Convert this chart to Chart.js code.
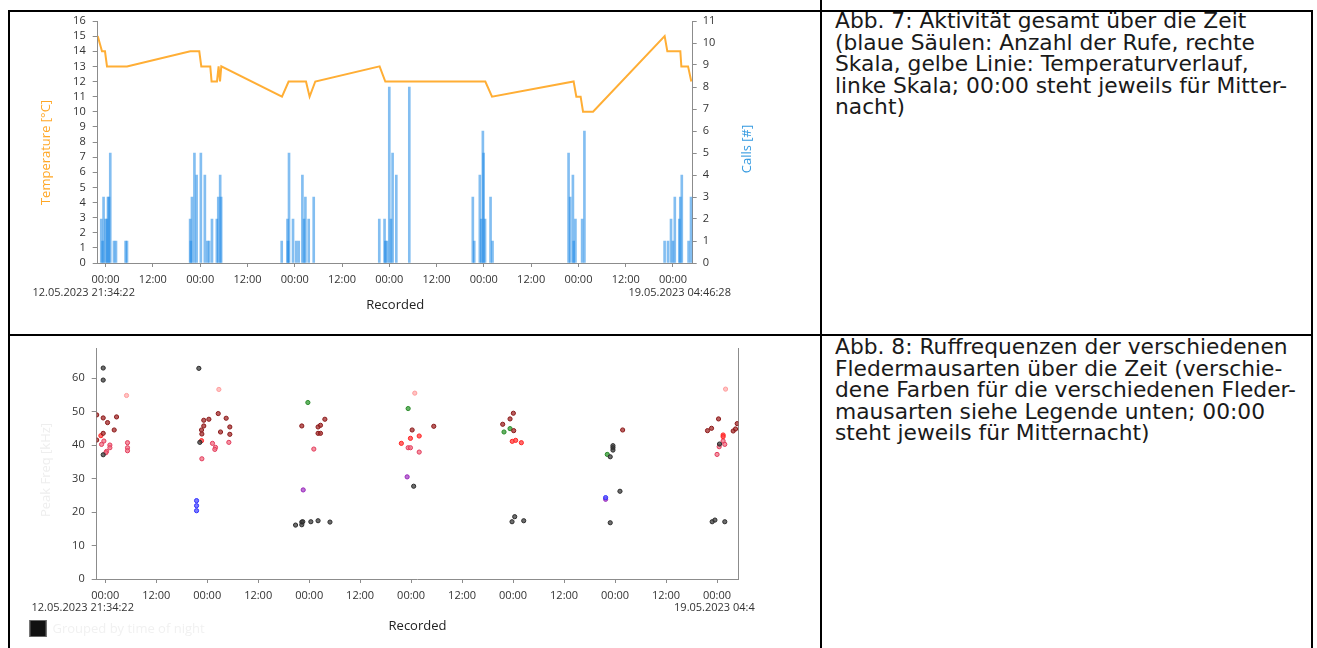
<!DOCTYPE html>
<html><head><meta charset="utf-8">
<script src="https://cdn.jsdelivr.net/npm/chart.js@4.4.1/dist/chart.umd.min.js"></script>
<style>
html,body{margin:0;padding:0;background:#fff;width:1317px;height:648px;overflow:hidden;}
#page{position:relative;width:1317px;height:648px;}
.ln{position:absolute;background:#000;z-index:5;}
#c1{position:absolute;left:0;top:0;}
#wrap2{position:absolute;left:0;top:335px;width:755px;height:313px;overflow:hidden;}
#c2{position:absolute;left:0;top:0;}
.cap{position:absolute;left:835px;font-family:"DejaVu Sans",sans-serif;color:#1a1a1a;font-size:17px;line-height:21.5px;white-space:nowrap;}
</style></head>
<body><div id="page">
<canvas id="c1" width="820" height="335"></canvas>
<div id="wrap2"><canvas id="c2" width="820" height="313"></canvas></div>
<div class="cap" id="cap1" style="top:10px">Abb. 7: Aktivität gesamt über die Zeit<br>(blaue Säulen: Anzahl der Rufe, rechte<br><span id="meas">Skala, gelbe Linie: Temperaturverlauf,</span><br>linke Skala; 00:00 steht jeweils für Mitter-<br>nacht)</div>
<div class="cap" id="cap2" style="top:336px">Abb. 8: Ruffrequenzen der verschiedenen<br>Fledermausarten über die Zeit (verschie-<br>dene Farben für die verschiedenen Fleder-<br>mausarten siehe Legende unten; 00:00<br>steht jeweils für Mitternacht)</div>
<div class="ln" style="left:8px;top:10px;width:1305px;height:1.5px"></div>
<div class="ln" style="left:8px;top:334px;width:1305px;height:1.5px"></div>
<div class="ln" style="left:8px;top:10px;width:2px;height:640px"></div>
<div class="ln" style="left:820px;top:0px;width:2px;height:650px"></div>
<div class="ln" style="left:1311px;top:10px;width:2px;height:640px"></div>
</div>
<script>
// ---------- data ----------
const tickHours = [0,12,24,36,48,60,72,84,96,108,120,132,144];
const tickLabels = ['00:00','12:00','00:00','12:00','00:00','12:00','00:00','12:00','00:00','12:00','00:00','12:00','00:00'];
const startLabel = '12.05.2023 21:34:22';
const endLabel = '19.05.2023 04:46:28';
const tempTicks = [0,1,2,3,4,5,6,7,8,9,10,11,12,13,14,15,16];
const callTicks = [0,1,2,3,4,5,6,7,8,9,10,11];
const freqTicks = [0,10,20,30,40,50,60];

// hours relative to 13.05.2023 00:00
const callTimes = [
 -1.09,-0.76,-0.51,0,0.36,0.61,0.86,1.19,2.13,2.64,5.08,5.43,
 21.46,21.64,21.92,22.55,23.1,24.18,25.19,25.83,26.28,27.0,28.24,28.6,29.08,29.33,
 44.7,46.17,46.3,46.55,47.57,48.38,49.02,49.95,50.36,50.71,51.55,52.82,
 69.46,70.8,71.0,71.4,72.0,72.43,72.84,73.78,77.08,
 93.2,93.56,94.98,95.34,95.75,95.92,96.3,97.7,98.2,
 117.5,117.9,118.6,118.8,119.24,120.94,121.52,
 141.87,142.73,143.5,144.0,144.46,145.6,145.85,146.23,147.96,148.57];
const callCounts = [
 2,1,3,2,2,3,3,5,1,1,1,1,
 2,1,3,5,4,5,4,1,1,2,2,3,4,3,
 1,2,1,5,2,1,1,4,2,3,2,3,
 2,2,1,1,8,2,5,4,8,
 3,1,4,2,6,5,2,3,1,
 5,3,4,1,2,2,6,
 1,1,2,1,3,2,3,4,1,3];

const tempTimes = [-2.0,-0.91,-0.15,0.36,5.43,21.5,23.78,24.29,26.57,26.9,28.27,28.68,29.04,29.37,44.77,46.45,50.86,51.78,53.22,69.54,70.99,96.37,98.07,118.78,119.47,120.56,121.17,123.71,141.88,142.56,145.86,146.12,147.82,148.65];
const tempValues = [15,14,14,13,13,14,14,13,13,12,12,13,12,13,11,12,12,11,12,13,12,12,11,12,11,11,10,10,15,14,14,13,13,12];

const blackTimes = [-0.47,-0.47,-0.47,22.04,22.27,44.8,46.27,46.27,46.5,48.4,50.1,52.9,72.6,95.75,96.38,98.5,118.86,119.5,119.5,119.5,121.15,118.86,144.58,142.85,143.5,145.82];
const blackFreqs = [63,59.4,37.1,62.9,40.8,16.1,17,16.2,17.1,17.1,17.4,17,27.7,17.1,18.6,17.4,36.5,39.8,39.2,38.5,26.2,16.8,40.3,17.1,17.6,17.1];
const maroonTimes = [-2.0,-2.0,-0.47,-0.47,0.55,2.12,2.67,22.67,22.75,23.2,23.2,24.4,26.6,27.14,28.47,29.33,29.33,46.27,50.1,50.67,50.1,50.67,51.7,72.24,77.33,93.55,95.28,96.06,96.14,121.78,141.75,142.7,144.35,147.8,148.35,148.74];
const maroonFreqs = [49,41.5,48.1,43.5,46.7,44.5,48.4,44.5,43.3,47.4,45.7,47.7,49.4,43.9,48,45.4,43.2,45.7,45.4,45.9,43.5,43.5,47.7,44.5,45.6,46.2,47.8,49.5,44.3,44.5,44.3,45,47.8,44.2,44.8,46.4];
const redTimes = [-1.02,22.67,69.7,71.84,73.9,95.8,96.6,97.94,145.43,145.43];
const redFreqs = [42.8,41.3,40.5,42,42.7,41.1,41.4,40.7,43,42.5];
const crimsonTimes = [-0.31,-0.86,0.31,0.16,1.1,1.1,5.25,5.25,5.25,22.75,25.25,25.96,25.8,29.1,49.1,71.3,71.84,73.9,144.5,145.43,145.82,144.0];
const crimsonFreqs = [41.2,40.2,38.1,37.7,40,39.2,40.7,39.2,38.3,35.9,40.5,39.3,38.7,40.8,38.8,39.2,39.2,37.9,39.5,41.2,40.2,37.2];
const pinkTimes = [5.02,26.75,72.86,146.0];
const pinkFreqs = [54.8,56.6,55.5,56.7];
const greenTimes = [47.7,71.3,95.28,93.86,118.16];
const greenFreqs = [52.7,50.9,44.9,43.9,37.2];
const blueTimes = [21.5,21.5,21.5,117.77];
const blueFreqs = [23.4,21.9,20.4,24.3];
const purpleTimes = [46.6,71.06,117.77];
const purpleFreqs = [26.6,30.5,23.8];

// ---------- styling ----------
const FONT = '"Open Sans","Noto Sans",sans-serif';
const AXIS = '#8c8c8c';
const TICKC = '#333333';
const X_MIN = -2.0, X_MAX = 149.0;
Chart.defaults.font.family = FONT;
Chart.defaults.animation = false;

// fit caption font to measured width
(function(){
  const m = document.getElementById('meas');
  const w = m.getBoundingClientRect().width;
  const fs = 17 * 414 / w;
  document.getElementById('cap1').style.fontSize = fs + 'px';
  document.getElementById('cap2').style.fontSize = fs + 'px';
})();

const extraText = {
  id: 'extraText',
  afterDraw(chart, args, o) {
    const {ctx, chartArea: a} = chart;
    ctx.save();
    ctx.font = '11px ' + FONT;
    ctx.fillStyle = TICKC;
    ctx.textAlign = 'center';
    ctx.textBaseline = 'middle';
    ctx.fillText(startLabel, a.left - 14, a.bottom + o.dateDy);
    ctx.fillText(endLabel, a.right - 13, a.bottom + o.dateDy);
    (o.vTitles || []).forEach(t => {
      ctx.save();
      ctx.translate(t.x, t.y);
      ctx.rotate(-Math.PI / 2);
      ctx.font = '13px ' + FONT;
      ctx.fillStyle = t.color;
      ctx.fillText(t.text, 0, 0);
      ctx.restore();
    });
    if (o.legend) {
      const L = o.legend;
      ctx.fillStyle = '#111111';
      ctx.fillRect(L.x, L.y, 17, 17);
      ctx.strokeStyle = '#666';
      ctx.lineWidth = 1;
      ctx.strokeRect(L.x + 0.5, L.y + 0.5, 16, 16);
      ctx.font = '13px ' + FONT;
      ctx.fillStyle = '#f1f1f1';
      ctx.textAlign = 'left';
      ctx.fillText(L.text, L.x + 23, L.y + 9);
    }
    ctx.restore();
  }
};

function xAxis(height, titlePad) {
  return {
    type: 'linear', min: X_MIN, max: X_MAX, offset: false,
    afterBuildTicks: s => { s.ticks = tickHours.map(v => ({value: v})); },
    ticks: {autoSkip: false, maxRotation: 0, font: {size: 11}, color: TICKC, padding: 6,
      callback: v => { const i = tickHours.indexOf(v); return i >= 0 ? tickLabels[i] : ''; }},
    grid: {display: true, drawOnChartArea: false, drawTicks: true, tickLength: 4, color: AXIS, offset: false},
    border: {display: true, color: AXIS},
    title: {display: true, text: 'Recorded', color: '#222', font: {size: 13}, padding: {top: 0, bottom: titlePad}},
    afterFit: s => { s.height = height; }
  };
}

// ---------- chart 1 ----------
new Chart(document.getElementById('c1'), {
  type: 'bar',
  data: {
    datasets: [
      {type: 'line', label: 'Temperature', yAxisID: 'yT', order: 0,
       data: tempTimes.map((t, i) => ({x: t, y: tempValues[i]})),
       borderColor: '#FFAE35', borderWidth: 2, pointRadius: 0, tension: 0, fill: false},
      {type: 'bar', label: 'Calls', yAxisID: 'yC', order: 1,
       data: callTimes.map((t, i) => ({x: t, y: callCounts[i]})),
       backgroundColor: 'rgba(30,136,229,0.55)', borderWidth: 0, barThickness: 2, grouped: false}
    ]
  },
  options: {
    responsive: false, animation: false,
    layout: {padding: {top: 21, left: 0, right: 0, bottom: 0}},
    plugins: {legend: {display: false}, tooltip: {enabled: false},
      extraText: {dateDy: 30, vTitles: [
        {text: 'Temperature [°C]', x: 46, y: 152.5, color: '#FFA726'},
        {text: 'Calls [#]', x: 747, y: 149, color: '#3399E0'}]}},
    scales: {
      x: xAxis(72, 22),
      yT: {position: 'left', min: 0, max: 16,
        afterBuildTicks: s => { s.ticks = tempTicks.map(v => ({value: v})); },
        ticks: {autoSkip: false, font: {size: 11}, color: TICKC, padding: 7},
        grid: {drawOnChartArea: false, tickLength: 5, color: AXIS},
        border: {display: true, color: AXIS},
        afterFit: s => { s.width = 97.7; }},
      yC: {position: 'right', min: 0, max: 11,
        afterBuildTicks: s => { s.ticks = callTicks.map(v => ({value: v})); },
        ticks: {autoSkip: false, font: {size: 11}, color: TICKC, padding: 6},
        grid: {drawOnChartArea: false, tickLength: 4, color: AXIS},
        border: {display: true, color: AXIS},
        afterFit: s => { s.width = 127.3; }}
    }
  },
  plugins: [extraText]
});

// ---------- chart 2 ----------
function sp(label, times, freqs, color, fill) {
  return {label, data: times.map((t, i) => ({x: t, y: freqs[i]})),
    pointRadius: 2.1, pointBorderWidth: 1, pointBorderColor: color, pointBackgroundColor: fill,
    borderColor: color, backgroundColor: fill, showLine: false};
}
new Chart(document.getElementById('c2'), {
  type: 'scatter',
  data: {
    datasets: [
      sp('Gruppe 1', blackTimes, blackFreqs, '#2a2a2a', 'rgba(60,60,60,0.75)'),
      sp('Gruppe 2', maroonTimes, maroonFreqs, '#8b1a1a', 'rgba(160,40,40,0.75)'),
      sp('Gruppe 3', redTimes, redFreqs, '#ff2424', 'rgba(255,70,70,0.8)'),
      sp('Gruppe 4', crimsonTimes, crimsonFreqs, '#e23c5c', 'rgba(240,110,130,0.75)'),
      sp('Gruppe 5', pinkTimes, pinkFreqs, '#ff9c9c', 'rgba(255,180,180,0.8)'),
      sp('Gruppe 6', greenTimes, greenFreqs, '#2a8a2a', 'rgba(60,160,60,0.8)'),
      sp('Gruppe 7', blueTimes, blueFreqs, '#3030ff', 'rgba(90,90,255,0.8)'),
      sp('Gruppe 8', purpleTimes, purpleFreqs, '#9a28bc', 'rgba(170,80,200,0.8)')
    ]
  },
  options: {
    responsive: false, animation: false,
    layout: {padding: {top: 11, left: 0, right: 0, bottom: 0}},
    plugins: {legend: {display: false}, tooltip: {enabled: false},
      extraText: {dateDy: 28.5, legend: {x: 29.5, y: 285, text: 'Grouped by time of night'},
        vTitles: [{text: 'Peak Freq [kHz]', x: 46.7, y: 135, color: '#eeeeee'}]}},
    scales: {
      x: xAxis(69, 13.5),
      y: {position: 'left', min: 0, max: 68.8,
        afterBuildTicks: s => { s.ticks = freqTicks.map(v => ({value: v})); },
        ticks: {autoSkip: false, font: {size: 11}, color: TICKC, padding: 7},
        grid: {drawOnChartArea: false, tickLength: 5, color: AXIS},
        border: {display: true, color: AXIS},
        afterFit: s => { s.width = 96.7; }},
      y2: {position: 'right', display: true, min: 0, max: 68.8,
        ticks: {display: false},
        grid: {display: false, drawTicks: false},
        border: {display: true, color: AXIS},
        afterFit: s => { s.width = 81.7; }}
    }
  },
  plugins: [extraText]
});
</script>
</body></html>
